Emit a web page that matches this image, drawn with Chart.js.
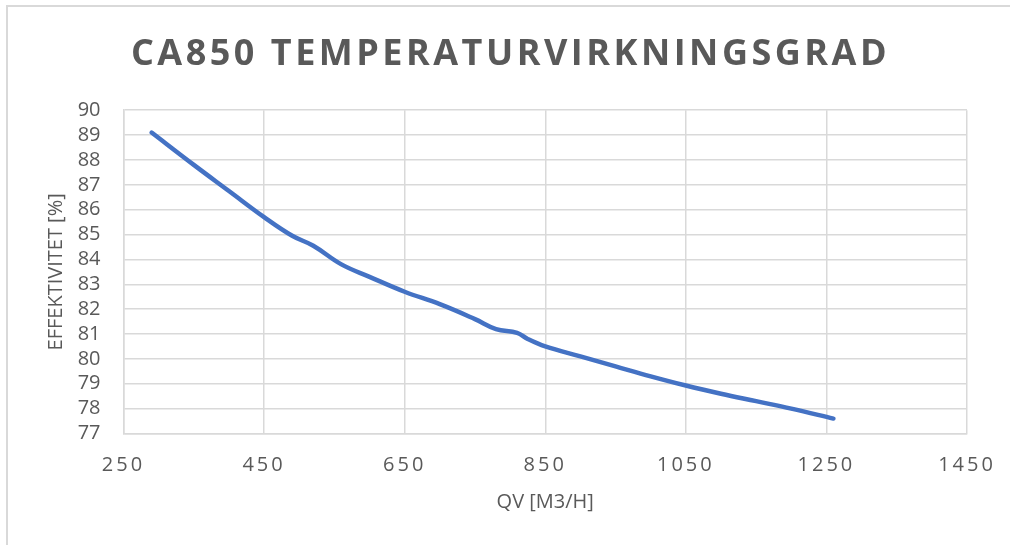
<!DOCTYPE html>
<html>
<head>
<meta charset="utf-8">
<script src="https://cdn.jsdelivr.net/npm/chart.js@4"></script>
<style>
  html, body { margin: 0; padding: 0; background: #fff; }
  #wrap { position: relative; width: 1010px; height: 545px; overflow: hidden; }
  #chart { position: absolute; left: 0; top: 0; }
  #frame { position: absolute; left: 6px; top: 5px; width: 1100px; height: 700px;
           border-top: 2px solid #d9d9d9; border-left: 2px solid #d9d9d9; pointer-events: none; }
</style>
</head>
<body>
<div id="wrap">
  <canvas id="chart" width="1010" height="545"></canvas>
  <div id="frame"></div>
</div>
<script>
// values
var qv = [290, 350, 400, 450, 490, 520, 560, 600, 650, 700, 750, 780, 810, 825, 850, 900, 950, 1000, 1050, 1100, 1150, 1200, 1260];
var effekt = [89.1, 87.8, 86.75, 85.7, 84.95, 84.55, 83.8, 83.3, 82.7, 82.2, 81.6, 81.2, 81.05, 80.8, 80.5, 80.1, 79.7, 79.3, 78.93, 78.6, 78.3, 78.0, 77.6];
var xTicks = [250, 450, 650, 850, 1050, 1250, 1450];
var yTicks = [77, 78, 79, 80, 81, 82, 83, 84, 85, 86, 87, 88, 89, 90];

var grey = '#595959';
var gridColor = '#d9d9d9';

var points = qv.map(function(x, i) { return { x: x, y: effekt[i] }; });

// canvas letter spacing for title and x tick labels
var spacingPlugin = {
    id: 'spacing',
    afterLayout: function(chart) {
        var tb = chart.titleBlock;
        if (tb && !tb._spaced) {
            var origDraw = tb.draw;
            tb.draw = function() {
                this.ctx.save();
                this.ctx.letterSpacing = '3.5px';
                // centre over the whole canvas, not only left of the right padding
                this.ctx.translate(27, 0);
                origDraw.apply(this, arguments);
                this.ctx.restore();
            };
            tb._spaced = true;
        }
        var sx = chart.scales.x;
        if (sx && !sx._spaced) {
            var origLabels = sx.drawLabels;
            sx.drawLabels = function() {
                this.ctx.save();
                this.ctx.letterSpacing = '3px';
                origLabels.apply(this, arguments);
                this.ctx.restore();
            };
            sx._spaced = true;
        }
    }
};

var ctx = document.getElementById('chart');
var myChart = new Chart(ctx, {
    type: 'line',
    data: {
        datasets: [
            {
                data: points,
                borderColor: '#4472C4',
                borderWidth: 4.5,
                borderCapStyle: 'round',
                borderJoinStyle: 'round',
                pointRadius: 0,
                tension: 0.4,
                fill: false
            }
        ]
    },
    plugins: [spacingPlugin],
    options: {
        responsive: false,
        animation: false,
        events: [],
        layout: {
            padding: { left: 0, right: 43, top: 0, bottom: 0 }
        },
        plugins: {
            legend: { display: false },
            tooltip: { enabled: false },
            title: {
                display: true,
                text: 'CA850 TEMPERATURVIRKNINGSGRAD',
                color: grey,
                font: { family: 'Open Sans', size: 36, weight: 'bold', lineHeight: 1.2 },
                padding: { top: 33, bottom: 34 }
            }
        },
        scales: {
            x: {
                type: 'linear',
                min: 250,
                max: 1450,
                afterBuildTicks: function(scale) {
                    scale.ticks = xTicks.map(function(v) { return { value: v }; });
                },
                afterFit: function(scale) { scale.height = 111.5; },
                grid: { color: gridColor, lineWidth: 1.5, drawTicks: false },
                border: { color: gridColor, width: 1.5 },
                ticks: {
                    color: grey,
                    autoSkip: false,
                    maxRotation: 0,
                    padding: 20,
                    font: { family: 'Open Sans', size: 20 },
                    callback: function(v) { return String(v); }
                },
                title: {
                    display: true,
                    text: 'QV [M3/H]',
                    color: grey,
                    font: { family: 'Open Sans', size: 20 },
                    padding: { top: 0, bottom: 31 }
                }
            },
            y: {
                min: 77,
                max: 90,
                afterBuildTicks: function(scale) {
                    scale.ticks = yTicks.map(function(v) { return { value: v }; });
                },
                afterFit: function(scale) { scale.width = 123.5; },
                grid: { color: gridColor, lineWidth: 1.5, drawTicks: false },
                border: { color: gridColor, width: 1.5 },
                ticks: {
                    color: grey,
                    autoSkip: false,
                    padding: 23,
                    font: { family: 'Open Sans', size: 20 },
                    callback: function(v) { return String(v); }
                },
                title: {
                    display: true,
                    text: 'EFFEKTIVITET [%]',
                    color: grey,
                    font: { family: 'Open Sans', size: 20 },
                    padding: { top: 44, bottom: 0 }
                }
            }
        }
    }
});
</script>
</body>
</html>
